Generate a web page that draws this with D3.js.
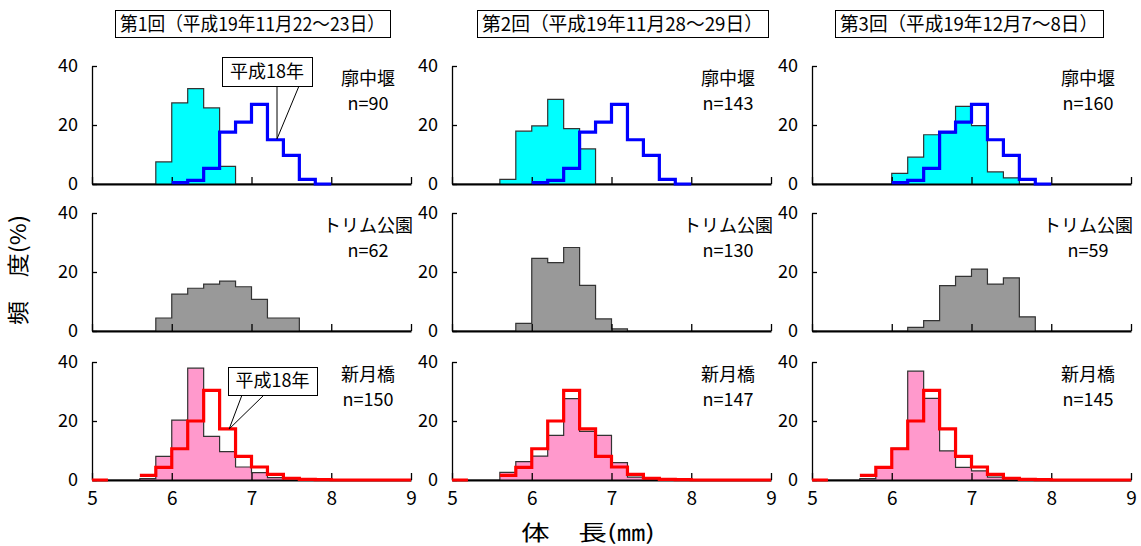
<!DOCTYPE html>
<html>
<head>
<meta charset="utf-8">
<script src="https://cdn.jsdelivr.net/npm/d3@7"></script>
<style>
  html, body { margin: 0; padding: 0; background: #fff; }
  svg { display: block; }
  text { font-family: "Noto Sans CJK JP", "Noto Sans", sans-serif; fill: #000; }
</style>
</head>
<body>
<svg id="chart" width="1141" height="546"></svg>
<script>
// Body-length bins (left edge, mm); each bin is 0.2 mm wide
const binStarts = [5.0, 5.2, 5.4, 5.6, 5.8, 6.0, 6.2, 6.4, 6.6, 6.8,
                   7.0, 7.2, 7.4, 7.6, 7.8, 8.0, 8.2, 8.4, 8.6, 8.8];
const binWidth = 0.2;

// Survey rounds (column headers)
const surveyTitles = [
  "第1回（平成19年11月22～23日）",
  "第2回（平成19年11月28～29日）",
  "第3回（平成19年12月7～8日）"
];

// Sites (rows)
const siteNames = ["廓中堰", "トリム公園", "新月橋"];

// Sample sizes, [site][round]
const sampleSizes = [
  [90, 143, 160],
  [62, 130, 59],
  [150, 147, 145]
];

// Frequency (%) per bin, 平成19年 surveys
const kakuchuRound1 = [0, 0, 0, 0, 7.5, 27.5, 32.3, 25.8, 6.0, 0, 0, 0, 0, 0, 0, 0, 0, 0, 0, 0];
const kakuchuRound2 = [0, 0, 0, 1.6, 17.9, 19.7, 28.7, 18.8, 11.9, 0, 0, 0, 0, 0, 0, 0, 0, 0, 0, 0];
const kakuchuRound3 = [0, 0, 0, 0, 0, 3.6, 9.1, 16.7, 17.3, 26.3, 19.8, 4.1, 2.1, 0, 0, 0, 0, 0, 0, 0];

const trimRound1 = [0, 0, 0, 0, 4.4, 12.5, 14.5, 15.9, 16.9, 15.0, 10.7, 4.4, 4.4, 0, 0, 0, 0, 0, 0, 0];
const trimRound2 = [0, 0, 0, 0, 2.6, 24.6, 23.2, 28.3, 15.5, 4.1, 0.7, 0, 0, 0, 0, 0, 0, 0, 0, 0];
const trimRound3 = [0, 0, 0, 0, 0, 0, 1.2, 3.5, 15.4, 18.5, 21.0, 15.9, 18.0, 4.8, 0, 0, 0, 0, 0, 0];

const shingetsuRound1 = [0, 0, 0, 0.5, 8.0, 20.3, 37.9, 14.8, 9.6, 4.4, 2.5, 0.8, 0, 0, 0, 0, 0, 0, 0, 0];
const shingetsuRound2 = [0, 0, 0, 2.6, 6.2, 8.1, 15.1, 27.6, 16.5, 15.1, 5.9, 1.0, 0.3, 0, 0, 0, 0, 0, 0, 0];
const shingetsuRound3 = [0, 0, 0, 0.5, 4.5, 10.7, 36.9, 27.7, 9.9, 4.3, 3.1, 1.0, 0, 0, 0, 0, 0, 0, 0, 0];

// 平成18年 reference distributions (null = not drawn)
const kakuchuH18 = [null, null, null, null, null, 0.5, 1.2, 5.3, 17.6, 21.0, 27.0, 15.0, 9.7, 1.6, 0, null, null, null, null, null];
const shingetsuH18 = [0, null, null, 1.6, 4.3, 10.6, 20.0, 30.4, 17.3, 8.0, 4.4, 1.9, 0.6, 0.2, 0.1, 0, 0, 0, 0, 0];

// Axis ticks
const xTicks = [5, 6, 7, 8, 9];
const yTicks = [0, 20, 40];

const histograms = [
  [kakuchuRound1, kakuchuRound2, kakuchuRound3],
  [trimRound1, trimRound2, trimRound3],
  [shingetsuRound1, shingetsuRound2, shingetsuRound3]
];
const referenceLines = [kakuchuH18, null, shingetsuH18];
const barFills = ["#00ffff", "#999999", "#ff99cc"];
const lineColors = ["#0000ff", null, "#ff0000"];

// Layout
const colLeft = [92, 452, 812];
const plotWidth = 319;
const rowBottom = [184, 331, 480];
const plotHeight = 118;

const svg = d3.select("#chart");

// Turn per-bin values into step points (left and right edge of each bin)
function stepPoints(values) {
  const pts = [];
  binStarts.forEach((b, i) => {
    pts.push({ x: b, v: values[i] });
    pts.push({ x: b + binWidth, v: values[i] });
  });
  return pts;
}

// Column header boxes
const headerBoxes = [
  { x: 115, w: 275 },
  { x: 477, w: 291 },
  { x: 835, w: 268 }
];
surveyTitles.forEach((t, i) => {
  const b = headerBoxes[i];
  svg.append("rect")
    .attr("x", b.x + 0.5).attr("y", 10.5)
    .attr("width", b.w).attr("height", 27)
    .attr("fill", "#fff").attr("stroke", "#000").attr("stroke-width", 1);
  svg.append("text")
    .attr("x", b.x + 5).attr("y", 31)
    .attr("font-size", 19)
    .attr("textLength", b.w - 10)
    .attr("lengthAdjust", "spacingAndGlyphs")
    .text(t);
});

for (let r = 0; r < 3; r++) {
  for (let c = 0; c < 3; c++) {
    const x = d3.scaleLinear().domain([5, 9]).range([colLeft[c], colLeft[c] + plotWidth]);
    const y = d3.scaleLinear().domain([0, 40]).range([rowBottom[r], rowBottom[r] - plotHeight]);
    const g = svg.append("g");

    // Histogram: filled step area with a step outline
    const pts = stepPoints(histograms[r][c]);
    const area = d3.area().x(d => x(d.x)).y0(y(0)).y1(d => y(d.v));
    const outline = d3.line().x(d => x(d.x)).y(d => y(d.v));
    g.append("path")
      .attr("d", area(pts))
      .attr("fill", barFills[r]);
    g.append("path")
      .attr("d", outline(pts))
      .attr("fill", "none")
      .attr("stroke", "#333")
      .attr("stroke-width", 1.2);

    // Y axis (inward ticks)
    const yAxis = d3.axisLeft(y).tickValues(yTicks).tickSizeInner(-5).tickSizeOuter(0).tickPadding(14);
    const ya = g.append("g").attr("transform", `translate(${x(5)},0)`).call(yAxis);
    ya.select(".domain").attr("stroke", "#000").attr("stroke-width", 1.3);
    ya.selectAll(".tick line").attr("stroke", "#000").attr("stroke-width", 1.3);
    ya.selectAll(".tick text")
      .attr("font-size", 18)
      .attr("font-family", "'Noto Sans CJK JP', sans-serif");

    // X axis (inward ticks); labels only on the bottom row
    const xAxis = d3.axisBottom(x).tickValues(xTicks).tickFormat(d3.format("d"))
      .tickSizeInner(-7).tickSizeOuter(0).tickPadding(12);
    const xa = g.append("g").attr("transform", `translate(0,${y(0)})`).call(xAxis);
    xa.select(".domain").attr("stroke", "#000").attr("stroke-width", 2);
    xa.selectAll(".tick line").attr("stroke", "#000").attr("stroke-width", 1.3);
    xa.selectAll(".tick text")
      .attr("font-size", 19)
      .attr("font-family", "'Noto Sans CJK JP', sans-serif")
      .style("display", r === 2 ? null : "none");

    // 平成18年 step line
    const ref = referenceLines[r];
    if (ref) {
      const line = d3.line()
        .defined(d => d.v !== null)
        .x(d => x(d.x))
        .y(d => y(d.v));
      g.append("path")
        .attr("d", line(stepPoints(ref)))
        .attr("fill", "none")
        .attr("stroke", lineColors[r])
        .attr("stroke-width", 3.2)
        .attr("stroke-linejoin", "miter");
    }

    // Site name and sample size
    const cx = x(9) - 43;
    g.append("text")
      .attr("x", cx).attr("y", y(40) + 13)
      .attr("dy", "0.35em")
      .attr("text-anchor", "middle")
      .attr("font-size", 18)
      .text(siteNames[r]);
    g.append("text")
      .attr("x", cx).attr("y", y(40) + 38)
      .attr("dy", "0.35em")
      .attr("text-anchor", "middle")
      .attr("font-size", 18)
      .text("n=" + sampleSizes[r][c]);

    // Callout for the 平成18年 line in the first round
    if (c === 0 && ref) {
      const callout = r === 0
        ? { at: [7.32, 15.3], box: [222, 57, 90, 29], legs: [277, 299] }
        : { at: [6.72, 17.3], box: [228, 367, 89, 28], legs: [242, 264] };
      const ax = x(callout.at[0]), ay = y(callout.at[1]);
      const [bx, by, bw, bh] = callout.box;
      callout.legs.forEach(lx => {
        g.append("line")
          .attr("x1", lx).attr("y1", by + bh)
          .attr("x2", ax).attr("y2", ay)
          .attr("stroke", "#000").attr("stroke-width", 1);
      });
      g.append("rect")
        .attr("x", bx + 0.5).attr("y", by + 0.5)
        .attr("width", bw).attr("height", bh)
        .attr("fill", "#fff").attr("stroke", "#000").attr("stroke-width", 1);
      g.append("text")
        .attr("x", bx + bw / 2).attr("y", by + bh / 2)
        .attr("dy", "0.36em")
        .attr("text-anchor", "middle")
        .attr("font-size", 18)
        .text("平成18年");
    }
  }
}

// Axis titles
svg.append("text")
  .attr("x", 588).attr("y", 540)
  .attr("text-anchor", "middle")
  .attr("font-size", 21)
  .attr("textLength", 134)
  .attr("lengthAdjust", "spacingAndGlyphs")
  .text("体　長(㎜)");

svg.append("text")
  .attr("transform", "translate(26,270) rotate(-90)")
  .attr("text-anchor", "middle")
  .attr("font-size", 22)
  .attr("textLength", 110)
  .attr("lengthAdjust", "spacingAndGlyphs")
  .text("頻　度(%)");
</script>
</body>
</html>
